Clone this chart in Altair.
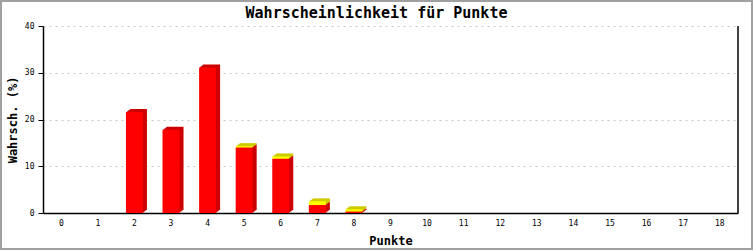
import altair as alt
import pandas as pd

punkte = list(range(19))
rot = [0, 0, 21.6, 17.8, 31.1, 14.0, 11.6, 1.7, 0.3, 0, 0, 0, 0, 0, 0, 0, 0, 0, 0]
gelb = [0, 0, 0, 0, 0, 0.3, 0.5, 0.8, 0.5, 0, 0, 0, 0, 0, 0, 0, 0, 0, 0]
y_ticks = [0, 10, 20, 30, 40]
titel = "Wahrscheinlichkeit für Punkte"

df = pd.DataFrame({
    "p": punkte,
    "r0": [0] * len(punkte),
    "r1": rot,
    "g0": rot,
    "g1": [a + b for a, b in zip(rot, gelb)],
})
df_r = df[df["r1"] > df["r0"]]
df_g = df[df["g1"] > df["g0"]]

MONO = "DejaVu Sans Mono"
W, H = 695, 187

x_enc = alt.X(
    "p:O",
    scale=alt.Scale(domain=punkte, paddingInner=0, paddingOuter=0),
    axis=alt.Axis(
        title="Punkte", titleFont=MONO, titleFontSize=12, titleFontWeight="bold",
        titleColor="black", titlePadding=8,
        labelFont=MONO, labelFontSize=8, labelColor="black", labelAngle=0,
        labelPadding=6, ticks=False, domainColor="black", domainWidth=1.5,
        grid=False,
    ),
)
y_scale = alt.Scale(domain=[0, 40], nice=False, zero=True)
y_axis = alt.Axis(
    values=y_ticks, title="Wahrsch. (%)", titleFont=MONO, titleFontSize=12,
    titleFontWeight="bold", titleColor="black", titleX=-31, titleY=H / 2,
    titleAngle=270, titleBaseline="middle", titleAlign="center",
    labelFont=MONO, labelFontSize=8, labelColor="black", labelPadding=4,
    tickColor="black", tickSize=5, domainColor="black", domainWidth=1.5,
    grid=True, gridColor="#c8c8c8", gridDash=[2, 4], gridWidth=1,
)

offsets = [(1, -0.75), (2, -1.5), (3, -2.25), (4, -3)]

layers = []
# red segment: shadows then front
for dx, dy in offsets:
    layers.append(alt.Chart(df_r).mark_bar(
        size=17, xOffset=dx, yOffset=dy, y2Offset=dy, color="#cc0000").encode(
        x=x_enc, y=alt.Y("r1:Q", scale=y_scale, axis=y_axis), y2="r0:Q"))
layers.append(alt.Chart(df_r).mark_bar(size=17, color="#ff0000").encode(
    x=x_enc, y=alt.Y("r1:Q", scale=y_scale, axis=y_axis), y2="r0:Q"))
# yellow segment
for dx, dy in offsets:
    layers.append(alt.Chart(df_g).mark_bar(
        size=17, xOffset=dx, yOffset=dy, y2Offset=dy, color="#cccc00").encode(
        x=x_enc, y=alt.Y("g1:Q", scale=y_scale, axis=y_axis), y2="g0:Q"))
layers.append(alt.Chart(df_g).mark_bar(size=17, color="#ffff00").encode(
    x=x_enc, y=alt.Y("g1:Q", scale=y_scale, axis=y_axis), y2="g0:Q"))

one = alt.Chart(alt.Data(values=[{"t": titel}]))
right_line = one.mark_rule(color="black", strokeWidth=1.5).encode(
    x=alt.value(W), y=alt.value(0), y2=alt.value(H))
border = one.mark_rect(filled=False, stroke="#a0a0a0", strokeWidth=2).encode(
    x=alt.value(-42), x2=alt.value(709), y=alt.value(-25), y2=alt.value(223))
title_text = one.mark_text(
    font=MONO, fontSize=15, fontWeight="bold", color="black",
    align="center", baseline="middle").encode(
    x=alt.value(376.5 - 43), y=alt.value(13 - 26), text="t:N")

chart = alt.layer(*layers, right_line, border, title_text).properties(
    width=W, height=H,
    padding={"left": 43, "top": 26, "right": 15, "bottom": 37},
    autosize=alt.AutoSizeParams(type="none"),
    background="white",
).configure_view(stroke=None)

chart.save("out.html", embed_options={"renderer": "svg", "actions": False})
